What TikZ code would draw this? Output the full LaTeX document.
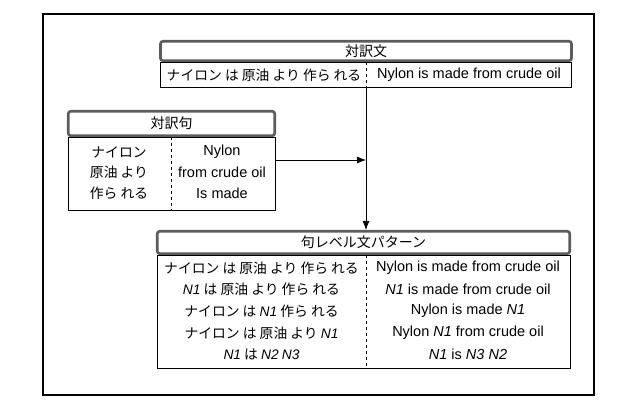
\documentclass[tikz,border=0pt]{standalone}
\usepackage{fontspec}
\setmainfont{Liberation Sans}
\newfontfamily\jpfont{Noto Sans CJK JP}
\usetikzlibrary{arrows.meta,positioning,calc}
\newcommand{\nv}[1]{{\rmfamily\itshape #1}}

\begin{document}
\begin{tikzpicture}[x=1pt,y=-1pt,
  hdr/.style={draw=black!64,line width=2.6pt,rounded corners=2.5pt,inner sep=0pt,font=\jpfont\fontsize{14}{16}\selectfont},
  pane/.style={draw,line width=0.8pt,inner sep=0pt},
  jtxt/.style={font=\jpfont\fontsize{13.8}{16}\selectfont},
  etxt/.style={font=\fontsize{14.5}{16}\selectfont},
  sep/.style={dash pattern=on 3pt off 3pt,line width=0.8pt},
  link/.style={-{Latex[length=9pt,width=7pt]},line width=0.8pt}]
  \useasboundingbox (0,0) rectangle (634,406);
  \draw[line width=1.8pt] (43,14) rectangle (594,395); % 外枠

  % 対訳文
  \node[hdr,minimum width=411pt,minimum height=19.5pt] (hdrA) at (366,51) {対訳文};
  \node[pane,minimum width=411pt,minimum height=25pt,below=0pt of hdrA] (paneA) {};
  \draw[sep] (paneA.north) -- (paneA.south);
  \node[jtxt] (a1) at (264,75) {ナイロン は 原油 より 作ら れる};
  \node[etxt] (a2) at (469,75) {Nylon is made from crude oil};

  % 対訳句
  \node[hdr,minimum width=206.5pt,minimum height=24.5pt] (hdrB) at (171.5,123.5) {対訳句};
  \node[pane,minimum width=207pt,minimum height=73pt,below=0pt of hdrB] (paneB) {};
  \draw[sep] (paneB.north) -- (paneB.south);
  \node[jtxt] (b1) at (119,152) {ナイロン};
  \node[jtxt] (b3) at (119,172.5) {原油 より};
  \node[jtxt] (b5) at (119,193) {作ら れる};
  \node[etxt] (b2) at (222,152) {Nylon};
  \node[etxt] (b4) at (222,172.5) {from crude oil};
  \node[etxt] (b6) at (222,193) {Is made};

  % 句レベル文パターン
  \node[hdr,minimum width=412.5pt,minimum height=22.5pt] (hdrC) at (363.5,242.5) {句レベル文パターン};
  \node[pane,minimum width=413pt,minimum height=113pt,below=0pt of hdrC] (paneC) {};
  \draw[sep] ($(paneC.north)+(2.5,0)$) -- ($(paneC.south)+(2.5,0)$);
  \node[jtxt] (c1) at (261.5,268) {ナイロン は 原油 より 作ら れる};
  \node[jtxt] (c3) at (261.5,289.6) {\nv{N1} は 原油 より 作ら れる};
  \node[jtxt] (c5) at (261.5,311.2) {ナイロン は \nv{N1} 作ら れる};
  \node[jtxt] (c7) at (261.5,332.8) {ナイロン は 原油 より \nv{N1}};
  \node[jtxt] (c9) at (261.5,354.4) {\nv{N1} は \nv{N2} \nv{N3}};
  \node[etxt] (c2) at (468,268) {Nylon is made from crude oil};
  \node[etxt] (c4) at (468,289.6) {\nv{N1} is made from crude oil};
  \node[etxt] (c6) at (468,311.2) {Nylon is made \nv{N1}};
  \node[etxt] (c8) at (468,332.8) {Nylon \nv{N1} from crude oil};
  \node[etxt] (c10) at (468,354.4) {\nv{N1} is \nv{N3} \nv{N2}};

  % 合流の矢印
  \coordinate (tap) at (paneA.south |- 0,160);
  \draw[link] (paneB.east |- tap) -- (tap);
  \draw[link] (paneA.south) -- (paneA.south |- hdrC.north);
\end{tikzpicture}
\end{document}
